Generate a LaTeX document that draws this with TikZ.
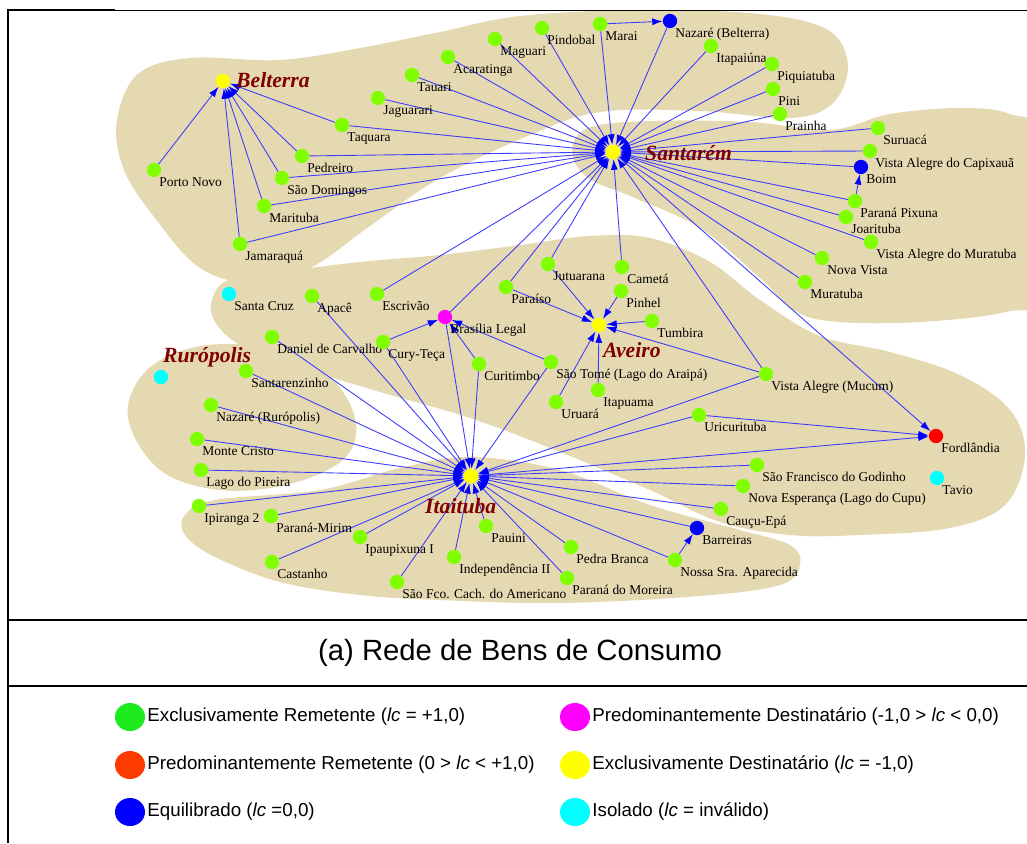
\documentclass[tikz,border=0pt]{standalone}
\usepackage{fontspec}
\setmainfont{Liberation Serif}
\newfontfamily\arialfont{Liberation Sans}
\usetikzlibrary{arrows.meta,positioning,shapes.geometric}

\definecolor{sandbg}{RGB}{229,217,177}
\definecolor{sndgreen}{RGB}{128,255,0}
\definecolor{lgdgreen}{RGB}{30,235,30}
\definecolor{lgdred}{RGB}{255,60,0}
\definecolor{flowblue}{RGB}{60,60,255}
\definecolor{hubred}{RGB}{128,0,0}
\definecolor{isocyan}{RGB}{0,255,255}
\definecolor{prdmagenta}{RGB}{255,0,255}
\definecolor{rcvyellow}{RGB}{255,255,0}
\definecolor{balblue}{RGB}{0,0,255}
\definecolor{prsred}{RGB}{255,0,0}

\pgfdeclarelayer{bg}
\pgfdeclarelayer{edges}
\pgfsetlayers{bg,edges,main}

\tikzset{
  vtx/.style={circle, minimum size=4.3mm, inner sep=0pt},
  snd/.style={vtx, fill=sndgreen},
  rcv/.style={vtx, fill=rcvyellow},
  bal/.style={vtx, fill=balblue},
  iso/.style={vtx, fill=isocyan},
  prd/.style={vtx, fill=prdmagenta},
  prs/.style={vtx, fill=prsred},
  lbl/.style={inner sep=0pt, text height=2.7mm, text depth=0.7mm, yshift=-0.5mm,
    font=\fontsize{11.5}{13}\selectfont},
  hublbl/.style={inner sep=0pt, anchor=west, text=hubred,
    font=\fontsize{18.5}{20}\selectfont\bfseries\itshape},
  flow/.style={draw=flowblue, line width=0.75pt, -{Latex[length=3.1mm,width=2.1mm,color=balblue]}},
  lgd/.style={ellipse, minimum width=9mm, minimum height=8.4mm, inner sep=0pt},
  lgdtxt/.style={inner sep=0pt, anchor=west, font=\arialfont\fontsize{16}{18}\selectfont}
}

\begin{document}
\begin{tikzpicture}[x=0.3mm,y=-0.3mm]
\useasboundingbox (0,0) rectangle (1027,843);

% sand regions
\begin{pgfonlayer}{bg}
\fill[sandbg] plot[smooth cycle, tension=0.6] coordinates {(117,120) (138,74) (190,58) (280,60) (360,48) (440,32) (520,16) (640,10) (760,14) (828,30) (848,66) (832,104) (790,118) (700,111) (600,112) (530,135) (440,178) (370,226) (310,268) (252,283) (200,268) (158,222) (124,170)};
\fill[sandbg] plot[smooth cycle, tension=0.6] coordinates {(572,152) (588,128) (650,121) (750,122) (830,130) (890,114) (960,108) (1010,114) (1040,140) (1040,290) (1005,312) (920,322) (840,322) (797,312) (760,278) (700,228) (630,196) (588,178)};
\fill[sandbg] plot[smooth cycle, tension=0.6] coordinates {(212,300) (228,280) (280,272) (360,262) (440,255) (520,245) (590,236) (650,238) (710,262) (760,300) (820,336) (890,352) (960,375) (1010,410) (1025,455) (1005,505) (950,528) (860,535) (790,535) (720,522) (650,490) (560,452) (470,418) (380,392) (275,360) (235,342) (214,320)};
\fill[sandbg] plot[smooth cycle, tension=0.6] coordinates {(185,515) (215,500) (320,490) (400,468) (470,457) (560,470) (650,505) (740,530) (790,545) (800,565) (780,585) (700,596) (560,603) (440,600) (360,595) (280,582) (215,557) (185,535)};
\fill[sandbg] plot[smooth cycle, tension=0.6] coordinates {(128,418) (145,372) (195,347) (265,347) (325,372) (355,418) (345,458) (290,484) (220,490) (160,470)};
\end{pgfonlayer}

% hubs
\node[rcv] (blt) at (223,81) {};
\node[rcv] (stm) at (613,152) {};
\node[rcv] (avr) at (599,325) {};
\node[rcv] (itb) at (471,476) {};
\node[hublbl] (bltlbl) at (236,80) {Belterra};
\node[hublbl] (stmlbl) at (645,153) {Santarém};
\node[hublbl] (avrlbl) at (603,350) {Aveiro};
\node[hublbl] (itblbl) at (425,506) {Itaituba};

% Belterra / Santarem north
\node[snd, label={[lbl]below right:Porto Novo}] (pnv) at (154,170) {};
\node[snd, label={[lbl]below right:Taquara}] (tqr) at (342,125) {};
\node[snd, label={[lbl]below right:Pedreiro}] (pdr) at (302,156) {};
\node[snd, label={[lbl]below right:São Domingos}] (sdm) at (282,178) {};
\node[snd, label={[lbl]below right:Marituba}] (mrt) at (264,206) {};
\node[snd, label={[lbl]below right:Jamaraquá}] (jmr) at (240,244) {};
\node[snd, label={[lbl]below right:Jaguarari}] (jgr) at (378,98) {};
\node[snd, label={[lbl]below right:Tauari}] (tau) at (412,75) {};
\node[snd, label={[lbl]below right:Acaratinga}] (acr) at (448,57) {};
\node[snd, label={[lbl]below right:Maguari}] (mgr) at (495,39) {};
\node[snd, label={[lbl]below right:Pindobal}] (pdb) at (542,28) {};
\node[snd, label={[lbl]below right:Marai}] (mar) at (600,24) {};
\node[bal, label={[lbl]below right:Nazaré (Belterra)}] (nzb) at (670,21) {};
\node[snd, label={[lbl]below right:Itapaiúna}] (itp) at (711,46) {};
\node[snd, label={[lbl]below right:Piquiatuba}] (pqt) at (772,64) {};
\node[snd, label={[lbl]below right:Pini}] (pin) at (773,89) {};
\node[snd, label={[lbl]below right:Prainha}] (prh) at (780,114) {};

% Santarem east
\node[snd, label={[lbl]below right:Suruacá}] (sur) at (878,128) {};
\node[snd, label={[lbl]below right:Vista Alegre do Capixauã}] (vac) at (870,151) {};
\node[bal, label={[lbl]below right:Boim}] (boi) at (861,167) {};
\node[snd, label={[lbl]below right:Paraná Pixuna}] (ppx) at (855,201) {};
\node[snd, label={[lbl]below right:Joarituba}] (joa) at (846,217) {};
\node[snd, label={[lbl]below right:Vista Alegre do Muratuba}] (vam) at (871,242) {};
\node[snd, label={[lbl]below right:Nova Vista}] (nvs) at (822,258) {};
\node[snd, label={[lbl]below right:Muratuba}] (mur) at (805,282) {};

% Aveiro region
\node[iso, label={[lbl]below right:Santa Cruz}] (scz) at (229,294) {};
\node[snd, label={[lbl]below right:Apacê}] (apc) at (312,296) {};
\node[snd, label={[lbl]below right:Escrivão}] (esc) at (377,294) {};
\node[prd, label={[lbl]below right:Brasília Legal}] (brl) at (445,317) {};
\node[snd, label={[lbl]below right:Daniel de Carvalho}] (dcv) at (272,337) {};
\node[snd, label={[lbl]below right:Cury-Teça}] (cur) at (383,342) {};
\node[snd, label={[lbl]below right:Jutuarana}] (jut) at (548,264) {};
\node[snd, label={[lbl]below right:Cametá}] (cam) at (622,267) {};
\node[snd, label={[lbl]below right:Paraíso}] (par) at (506,287) {};
\node[snd, label={[lbl]below right:Pinhel}] (pnh) at (621,291) {};
\node[snd, label={[lbl]below right:Tumbira}] (tmb) at (652,321) {};
\node[snd, label={[lbl]below right:Curitimbo}] (ctb) at (479,364) {};
\node[snd, label={[lbl]below right:São Tomé (Lago do Araipá)}] (sto) at (551,362) {};
\node[snd, label={[lbl]below right:Itapuama}] (itq) at (598,390) {};
\node[snd, label={[lbl]below right:Uruará}] (uru) at (556,402) {};
\node[snd, label={[lbl]below right:Vista Alegre (Mucum)}] (vmc) at (766,374) {};
\node[snd, label={[lbl]below right:Uricurituba}] (urc) at (699,415) {};
\node[prs, label={[lbl]below right:Fordlândia}] (frd) at (936,436) {};
\node[iso, label={[lbl]below right:Tavio}] (tav) at (937,478) {};

% Ruropolis
\node[iso] (rur) at (161,377) {};
\node[hublbl] (rurlbl) at (163,357) {Rurópolis};
\node[snd, label={[lbl]below right:Santarenzinho}] (szn) at (246,371) {};
\node[snd, label={[lbl]below right:Nazaré (Rurópolis)}] (nzr) at (211,405) {};
\node[snd, label={[lbl]below right:Monte Cristo}] (mcr) at (197,439) {};
\node[snd, label={[lbl]below right:Lago do Pireira}] (lpr) at (201,470) {};

% Itaituba south
\node[snd, label={[lbl]below right:Ipiranga 2}] (ipr) at (199,506) {};
\node[snd, label={[lbl]below right:Paraná-Mirim}] (pmr) at (271,516) {};
\node[snd, label={[lbl]below right:Ipaupixuna I}] (ipx) at (360,537) {};
\node[snd, label={[lbl]below right:Castanho}] (cst) at (272,562) {};
\node[snd, label={[lbl]below right:São Fco. Cach. do Americano}] (sfc) at (397,582) {};
\node[snd, label={[lbl]below right:Independência II}] (ind) at (454,557) {};
\node[snd, label={[lbl]below right:Pauini}] (pau) at (486,526) {};
\node[snd, label={[lbl]below right:Pedra Branca}] (pbr) at (571,547) {};
\node[snd, label={[lbl]below right:Paraná do Moreira}] (pmo) at (567,578) {};
\node[snd, label={[lbl]below right:Nossa Sra. Aparecida}] (nsa) at (675,560) {};
\node[bal, label={[lbl]below right:Barreiras}] (bar) at (697,528) {};
\node[snd, label={[lbl]below right:Cauçu-Epá}] (cep) at (721,509) {};
\node[snd, label={[lbl]below right:Nova Esperança (Lago do Cupu)}] (nep) at (743,486) {};
\node[snd, label={[lbl]below right:São Francisco do Godinho}] (sfg) at (757,465) {};

% flows
\begin{pgfonlayer}{edges}
\foreach \s in {pnv,tqr,pdr,sdm,mrt,jmr}
  \draw[flow] (\s) -- (blt);
\foreach \s in {tqr,pdr,sdm,mrt,jmr,jgr,tau,acr,mgr,pdb,mar,nzb,itp,pqt,pin,prh,sur,vac,boi,ppx,joa,vam,nvs,mur,esc,brl,par,jut,cam,vmc}
  \draw[flow] (\s) -- (stm);
\foreach \s in {jut,pnh,par,tmb,uru,itq,vmc}
  \draw[flow] (\s) -- (avr);
\foreach \s in {cur,ctb,sto}
  \draw[flow] (\s) -- (brl);
\foreach \s in {szn,nzr,mcr,lpr,dcv,apc,cur,brl,ctb,sto,vmc,urc,sfg,nep,cep,bar,nsa,pbr,pmo,pau,ind,sfc,ipx,cst,pmr,ipr}
  \draw[flow] (\s) -- (itb);
\draw[flow] (mar) -- (nzb);
\draw[flow] (ppx) -- (boi);
\draw[flow] (nsa) -- (bar);
\draw[flow] (urc) -- (frd);
\draw[flow] (stm) -- (frd);
\draw[flow] (itb) -- (frd);
\end{pgfonlayer}

% frame
\draw[line width=1.6pt] (8,843) -- (8,10) -- (115,10);
\draw[line width=0.8pt] (115,10) -- (1027,10);
\draw[line width=1.3pt] (8,620) -- (1027,620);
\draw[line width=1.3pt] (8,686) -- (1027,686);

% caption and legend
\node[font=\arialfont\fontsize{25}{28}\selectfont] (cap) at (520,653) {(a) Rede de Bens de Consumo};
\node[lgd, fill=lgdgreen] (lg1) at (130,717) {};
\node[lgd, fill=lgdred] (lg2) at (130,765) {};
\node[lgd, fill=balblue] (lg3) at (130,812) {};
\node[lgd, fill=prdmagenta] (lg4) at (575,717) {};
\node[lgd, fill=rcvyellow] (lg5) at (575,765) {};
\node[lgd, fill=isocyan] (lg6) at (575,812) {};
\node[lgdtxt, right=0.6mm of lg1] (lt1) {Exclusivamente Remetente (\textit{lc} = +1,0)};
\node[lgdtxt, right=0.6mm of lg2] (lt2) {Predominantemente Remetente (0 > \textit{lc} < +1,0)};
\node[lgdtxt, right=0.6mm of lg3] (lt3) {Equilibrado (\textit{lc} =0,0)};
\node[lgdtxt, right=0.6mm of lg4] (lt4) {Predominantemente Destinatário (-1,0 > \textit{lc} < 0,0)};
\node[lgdtxt, right=0.6mm of lg5] (lt5) {Exclusivamente Destinatário (\textit{lc} = -1,0)};
\node[lgdtxt, right=0.6mm of lg6] (lt6) {Isolado (\textit{lc} = inválido)};
\end{tikzpicture}
\end{document}
